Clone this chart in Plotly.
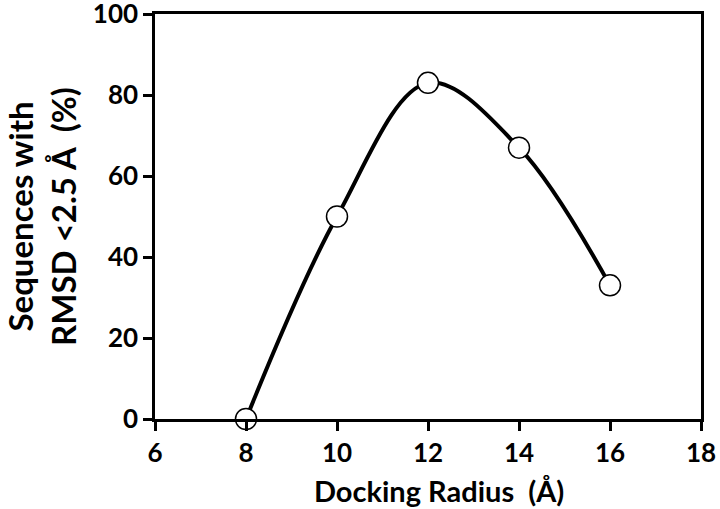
import plotly.graph_objects as go

radius = [8, 10, 12, 14, 16]
percent = [0, 50, 83, 67, 33]
x_ticks = [6, 8, 10, 12, 14, 16, 18]
y_ticks = [0, 20, 40, 60, 80, 100]

FONT = "Lato"

fig = go.Figure()
fig.add_trace(go.Scatter(
    x=radius, y=percent, mode="lines",
    line=dict(shape="spline", smoothing=1.0, color="black", width=4),
    hoverinfo="skip", cliponaxis=False,
))
fig.add_trace(go.Scatter(
    x=radius, y=percent, mode="markers",
    marker=dict(size=21, color="white", line=dict(color="black", width=1.5)),
    cliponaxis=False,
))

axis_common = dict(
    showgrid=False, zeroline=False, showline=True, linecolor="black", linewidth=2.5,
    mirror=True, ticks="outside", ticklen=9, tickwidth=2.5, tickcolor="black",
    ticklabeloverflow="allow", automargin=False,
    tickfont=dict(family=FONT, size=26, color="black", weight="bold"),
)

fig.update_xaxes(range=[6, 18], tickvals=x_ticks, **axis_common)
fig.update_yaxes(range=[0, 100], tickvals=y_ticks,
                 title=dict(text="Sequences with<br>RMSD <2.5 Å  (%)", standoff=22,
                            font=dict(family=FONT, size=33, color="black", weight="bold")),
                 **axis_common)

fig.add_annotation(
    text="Docking Radius  (Å)", xref="paper", yref="paper", x=0.5, y=0,
    xanchor="center", yanchor="top", xshift=11, yshift=-52, showarrow=False,
    font=dict(family=FONT, size=29, color="black", weight="bold"),
)

fig.update_layout(
    width=720, height=509,
    margin=dict(l=155, r=19, t=14, b=90, autoexpand=False),
    paper_bgcolor="white", plot_bgcolor="white",
    showlegend=False,
)

fig.write_html("out.html", config={"displayModeBar": False},
               post_script="document.body.style.margin='0';document.body.style.overflow='hidden';")
